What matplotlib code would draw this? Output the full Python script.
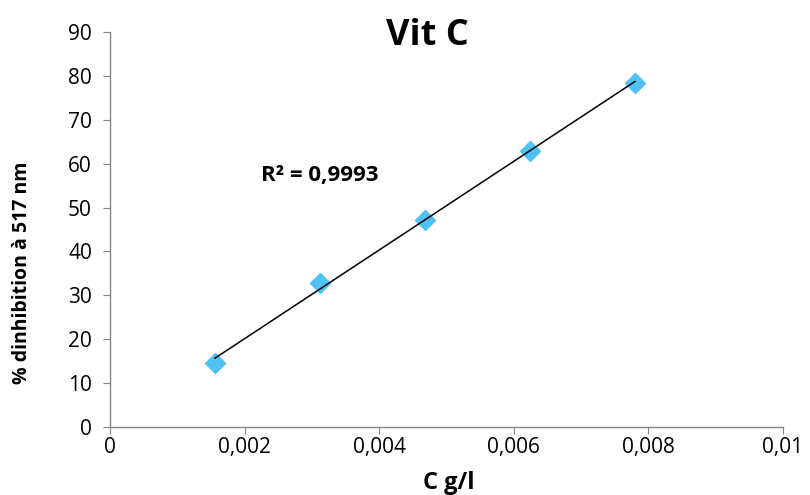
import numpy as np
import matplotlib
matplotlib.use("Agg")
import matplotlib.pyplot as plt
from matplotlib.ticker import FuncFormatter

conc = [0.00156, 0.00312, 0.00468, 0.00624, 0.0078]
inhib = [14.6, 32.9, 47.2, 62.9, 78.4]
r2_label = "R² = 0,9993"
title = "Vit C"
xlabel = "C g/l"
ylabel = "% dinhibition à 517 nm"

plt.rcParams['font.family'] = ['Open Sans', 'DejaVu Sans']

fig = plt.figure(figsize=(8.1, 4.95), dpi=100)
ax = fig.add_axes([110/810, 1-427/495, (783-110)/810, (427-32)/495])

slope, intercept = np.polyfit(conc, inhib, 1)
xs = np.array([conc[0], conc[-1]])
ax.plot(xs, slope*xs + intercept, color='black', lw=1.1, zorder=3)
ax.plot(conc, inhib, linestyle='none', marker='D', ms=10, color='#4FC1F5', zorder=2)

ax.set_xlim(0, 0.01)
ax.set_ylim(0, 90)
ax.set_xticks(np.arange(0, 0.0101, 0.002))
ax.set_yticks(np.arange(0, 91, 10))

def fmt(v, pos):
    if abs(v) < 1e-12:
        return "0"
    s = ("%.3f" % v).rstrip('0')
    return s.replace('.', ',')
ax.xaxis.set_major_formatter(FuncFormatter(fmt))

for s in ['top', 'right']:
    ax.spines[s].set_visible(False)
for s in ['left', 'bottom']:
    ax.spines[s].set_color('#868686')
    ax.spines[s].set_linewidth(1.0)
ax.tick_params(axis='both', colors='#868686', labelcolor='black', labelsize=15, length=5, direction='out')
ax.tick_params(axis='x', pad=2)
ax.tick_params(axis='y', pad=8)

fig.text(427/810, 1-36/495, title, ha='center', va='center', fontsize=26, fontweight='bold')
fig.text(449/810, 1-483/495, xlabel, ha='center', va='center', fontsize=17, fontweight='bold')
fig.text(22/810, 1-273/495, ylabel, ha='center', va='center', fontsize=14, fontweight='bold', rotation=90)
ax.text(0.00225, 57.4, r2_label, ha='left', va='center', fontsize=16, fontweight='bold')

fig.savefig('out.png', dpi=100)
